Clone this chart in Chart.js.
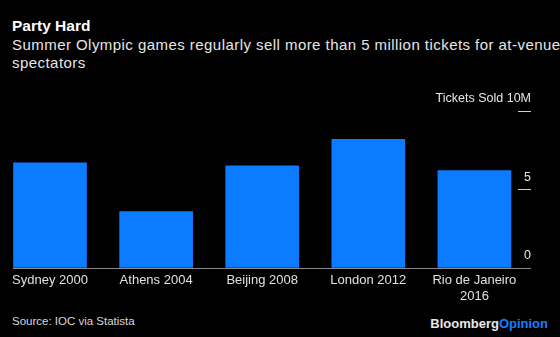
<!DOCTYPE html>
<html>
<head>
<meta charset="utf-8">
<script src="https://cdn.jsdelivr.net/npm/chart.js@4"></script>
<style>
  body { margin: 0; background: #000; width: 560px; height: 337px; overflow: hidden; position: relative;
         font-family: "Liberation Sans", Arial, sans-serif; }
  #title { position: absolute; left: 12px; top: 16.6px; font-size: 15.5px; line-height: 18px; font-weight: bold; color: #fff; }
  #subtitle { position: absolute; left: 12px; top: 36px; white-space: nowrap; font-size: 15px; line-height: 17.7px; letter-spacing: 0.45px; color: #e6e6e6; }
  #source { position: absolute; left: 12px; top: 313.5px; font-size: 11.5px; line-height: 14px; color: #d9d9d9; }
  #logo { position: absolute; right: 12px; top: 316.3px; font-size: 13px; line-height: 15px; font-weight: bold; color: #e8e8e8; }
  #logo span { color: #1a7dff; }
  #wrap { position: absolute; left: 0; top: 80px; width: 560px; height: 228px; }
</style>
</head>
<body>
<div id="title">Party Hard</div>
<div id="subtitle">Summer Olympic games regularly sell more than 5 million tickets for at-venue<br>spectators</div>
<div id="wrap"><canvas id="ticketChart"></canvas></div>
<div id="source">Source: IOC via Statista</div>
<div id="logo">Bloomberg<span>Opinion</span></div>
<script>
// games on the x axis, tickets sold in millions
const games = ['Sydney 2000', 'Athens 2004', 'Beijing 2008', 'London 2012', ['Rio de Janeiro', '2016']];
const ticketsSold = [6.7, 3.6, 6.5, 8.2, 6.2];
const yTicks = [0, 5, 10];

function renderTicketChart() {
    const ctx = document.getElementById('ticketChart').getContext('2d');
    new Chart(ctx, {
        type: 'bar',
        data: {
            datasets: [{
                label: 'Tickets Sold',
                backgroundColor: '#0b7bff',
                borderWidth: 0,
                barThickness: 73,
                data: ticketsSold.map((v, i) => ({ x: i, y: v })),
            }]
        },
        options: {
            responsive: true,
            maintainAspectRatio: false,
            animation: false,
            layout: { padding: { left: 13, right: 29, top: 31, bottom: 0 } },
            plugins: { legend: { display: false }, tooltip: { enabled: false } },
            scales: {
                // linear so the first bar can sit flush with the baseline start
                x: {
                    type: 'linear',
                    offset: false,
                    min: -0.349,
                    max: 4.411,
                    afterBuildTicks: s => { s.ticks = games.map((g, i) => ({ value: i })); },
                    afterFit: s => { s.height = 40; },
                    grid: { display: false, drawTicks: false },
                    border: { display: false },
                    ticks: {
                        autoSkip: false,
                        maxRotation: 0,
                        padding: 4.5,
                        color: '#e0e0e0',
                        font: { family: 'Liberation Sans', size: 13, lineHeight: 16 / 13 },
                        callback: v => games[v],
                    }
                },
                y: {
                    position: 'right',
                    min: 0,
                    max: 10,
                    afterBuildTicks: s => { s.ticks = yTicks.map(v => ({ value: v })); },
                    afterFit: s => { s.width = 13; },
                    border: { display: false },
                    grid: {
                        tickLength: 13,
                        color: c => c.tick && c.tick.value === 0 ? '#8a8a8a' : 'transparent',
                        tickColor: c => c.tick && c.tick.value === 0 ? '#8a8a8a' : '#d0d0d0',
                    },
                    ticks: {
                        mirror: true,
                        padding: 13,
                        labelOffset: -12,
                        color: '#e6e6e6',
                        font: { family: 'Liberation Sans', size: 12.5 },
                        callback: v => v === 10 ? 'Tickets Sold 10M' : v,
                    }
                }
            }
        }
    });
}

document.addEventListener('DOMContentLoaded', renderTicketChart);
</script>
</body>
</html>
